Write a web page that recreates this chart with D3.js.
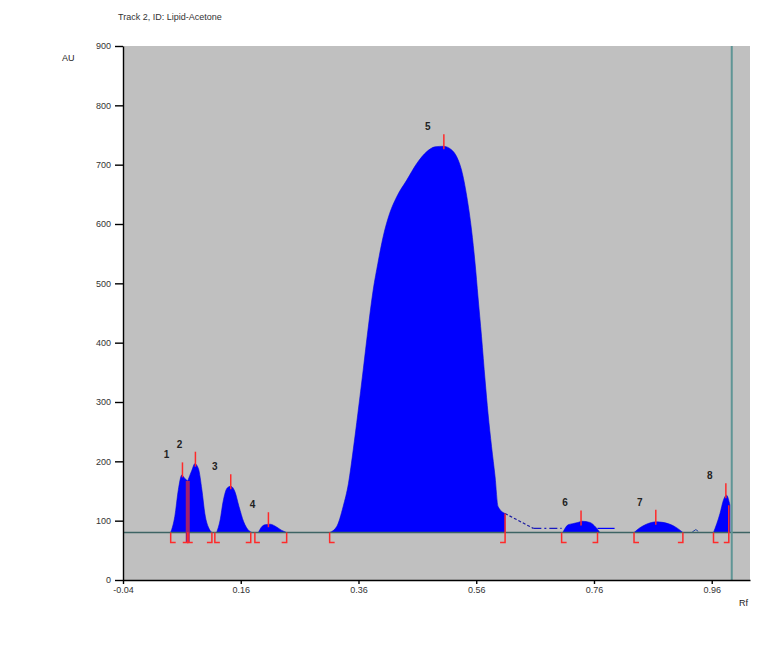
<!DOCTYPE html>
<html>
<head>
<meta charset="utf-8">
<script src="https://cdn.jsdelivr.net/npm/d3@7.9.0/dist/d3.min.js"></script>
<style>
  body { margin: 0; background: #fff; }
  text { font-family: "Liberation Sans", Arial, sans-serif; }
</style>
</head>
<body>
<svg id="chart" width="769" height="658"></svg>
<script>
// densitogram track, values
const titleText = 'Track 2, ID: Lipid-Acetone';
const yTicks = [0, 100, 200, 300, 400, 500, 600, 700, 800, 900];
const xTicks = [-0.04, 0.16, 0.36, 0.56, 0.76, 0.96];
const xTickLabels = ['-0.04', '0.16', '0.36', '0.56', '0.76', '0.96'];
const baselineAU = 80;
const cursorRf = 0.994;

// [Rf, AU] per peak
const peak1 = [[0.041, 80], [0.048, 107], [0.054, 152], [0.060, 177], [0.065, 171], [0.070, 167]];
const peak2 = [[0.070, 167], [0.077, 185], [0.082, 196], [0.088, 188], [0.094, 152], [0.099, 112], [0.107, 85], [0.111, 80]];
const peak3 = [[0.119, 80], [0.125, 101], [0.130, 132], [0.137, 155], [0.143, 158], [0.150, 149], [0.157, 124], [0.165, 98], [0.174, 83], [0.179, 80]];
const peak4 = [[0.190, 80], [0.195, 89], [0.201, 93], [0.210, 94], [0.218, 91], [0.229, 84], [0.238, 80]];
const peak5 = [[0.311, 80], [0.323, 90], [0.334, 124], [0.343, 163], [0.351, 219], [0.359, 281], [0.368, 354],
  [0.376, 421], [0.385, 489], [0.393, 534], [0.402, 579], [0.413, 618], [0.425, 646], [0.442, 674],
  [0.459, 702], [0.476, 722], [0.490, 730], [0.504, 731], [0.518, 725], [0.527, 713], [0.535, 691],
  [0.544, 646], [0.552, 590], [0.558, 534], [0.563, 477], [0.569, 410], [0.575, 337], [0.580, 281],
  [0.586, 225], [0.592, 174], [0.597, 124], [0.609, 112]];
const peak6 = [[0.707, 80], [0.716, 93], [0.724, 95], [0.733, 97], [0.740, 99], [0.753, 97], [0.763, 89], [0.770, 80]];
const peak7 = [[0.828, 80], [0.838, 88], [0.849, 94], [0.866, 98], [0.889, 94], [0.902, 87], [0.911, 80]];
const peak8 = [[0.963, 80], [0.974, 112], [0.980, 135], [0.985, 143], [0.991, 126]];
const peaks = [peak1, peak2, peak3, peak4, peak5, peak6, peak7, peak8];

// unintegrated signal between peaks
const tailDotted = [[0.609, 112], [0.657, 87]];
const tailDashDot = [[0.657, 87], [0.705, 87]];
const tailSolid = [[0.766, 87], [0.795, 87]];
const squiggle = [[0.927, 81], [0.933, 85], [0.937, 82]];

const peakLabels = ['1', '2', '3', '4', '5', '6', '7', '8'];
const apexRf = [0.061, 0.083, 0.143, 0.207, 0.505, 0.738, 0.865, 0.984];
const apexAU = [178, 196, 158, 94, 731, 97, 98, 143];
const bracketStart = [0.041, 0.070, 0.116, 0.184, 0.311, 0.705, 0.828, 0.963];
const bracketEnd = [0.070, 0.111, 0.177, 0.238, 0.609, 0.766, 0.911, 0.989];
const splitRf = 0.070;
const splitAU = 167;

const svg = d3.select('#chart');
const x = d3.scaleLinear().domain([-0.04, 1.025]).range([123, 750]);
const y = d3.scaleLinear().domain([0, 900]).range([580, 46]);

svg.append('rect')
  .attr('x', x(-0.04)).attr('y', y(900))
  .attr('width', x(1.025) - x(-0.04)).attr('height', y(0) - y(900))
  .attr('fill', '#c0c0c0');

// title + axis names
svg.append('text').attr('x', 118).attr('y', 20).attr('font-size', 9).attr('fill', '#333').text(titleText);
svg.append('text').attr('x', 62).attr('y', 61).attr('font-size', 9).attr('fill', '#222').text('AU');
svg.append('text').attr('x', 739).attr('y', 606).attr('font-size', 9).attr('fill', '#222').text('Rf');

// peak fills
let area = d3.area()
  .curve(d3.curveMonotoneX)
  .x((d) => x(d[0]))
  .y0(y(baselineAU))
  .y1((d) => y(d[1]));

peaks.forEach((p) => {
  svg.append('path')
    .attr('d', area(p))
    .attr('fill', '#0000ff')
    .attr('stroke', '#0000e0')
    .attr('stroke-width', 0.6);
});

let line = d3.line().x((d) => x(d[0])).y((d) => y(d[1]));

svg.append('path').attr('d', line(tailDotted)).attr('fill', 'none')
  .attr('stroke', '#1a1aa0').attr('stroke-width', 1.2).attr('stroke-dasharray', '3,2');
svg.append('path').attr('d', line(tailDashDot)).attr('fill', 'none')
  .attr('stroke', '#1a1ac0').attr('stroke-width', 1.2).attr('stroke-dasharray', '8,3,2,3');
svg.append('path').attr('d', line(tailSolid)).attr('fill', 'none')
  .attr('stroke', '#0000ff').attr('stroke-width', 1.2);
svg.append('path').attr('d', line(squiggle)).attr('fill', 'none')
  .attr('stroke', '#2040a0').attr('stroke-width', 1);

// baseline
svg.append('line')
  .attr('x1', x(-0.04)).attr('x2', x(1.025))
  .attr('y1', y(baselineAU)).attr('y2', y(baselineAU))
  .attr('stroke', '#3d6464').attr('stroke-width', 1.5);

// split between peak 1 and 2
svg.append('line')
  .attr('x1', x(splitRf)).attr('x2', x(splitRf))
  .attr('y1', y(splitAU)).attr('y2', y(baselineAU) + 10)
  .attr('stroke', '#a0206e').attr('stroke-width', 4);

// integration brackets
const yb = y(baselineAU);
bracketStart.forEach((rf) => {
  svg.append('path')
    .attr('d', `M${x(rf)},${yb}V${yb + 10}H${x(rf) + 5}`)
    .attr('fill', 'none').attr('stroke', '#ff2a2a').attr('stroke-width', 1.5);
});
bracketEnd.forEach((rf, i) => {
  let p = peaks[i];
  let top = Math.max(p[p.length - 1][1], baselineAU);
  if (i === 0) top = baselineAU;
  svg.append('path')
    .attr('d', `M${x(rf)},${y(top)}V${yb + 10}H${x(rf) - 5}`)
    .attr('fill', 'none').attr('stroke', '#ff2a2a').attr('stroke-width', 1.5);
});

// apex ticks and peak numbers
apexRf.forEach((rf, i) => {
  svg.append('line')
    .attr('x1', x(rf)).attr('x2', x(rf))
    .attr('y1', y(apexAU[i]) - 12).attr('y2', y(apexAU[i]) + 3)
    .attr('stroke', '#ff2a2a').attr('stroke-width', 1.5);
  svg.append('text')
    .attr('x', x(rf) - 16).attr('y', y(apexAU[i]) - 16)
    .attr('text-anchor', 'middle')
    .attr('font-size', 10).attr('font-weight', 'bold').attr('fill', '#222')
    .text(peakLabels[i]);
});

// cursor
svg.append('line')
  .attr('x1', x(cursorRf)).attr('x2', x(cursorRf))
  .attr('y1', y(900)).attr('y2', y(0))
  .attr('stroke', '#5f9595').attr('stroke-width', 2);

// axes
let yAxis = d3.axisLeft(y).tickValues(yTicks).tickSize(8).tickSizeOuter(0).tickPadding(4);
let xAxis = d3.axisBottom(x).tickValues(xTicks).tickSize(4).tickSizeOuter(0).tickPadding(3)
  .tickFormat((d, i) => xTickLabels[i]);

let gy = svg.append('g').attr('transform', `translate(${x(-0.04)},0)`).call(yAxis);
let gx = svg.append('g').attr('transform', `translate(0,${y(0)})`).call(xAxis);

[gx, gy].forEach((g) => {
  g.selectAll('path, line').attr('stroke', '#000').attr('stroke-width', 1.4);
  g.selectAll('text').attr('font-size', 9).attr('fill', '#333')
    .attr('font-family', '"Liberation Sans", Arial, sans-serif');
});
</script>
</body>
</html>
